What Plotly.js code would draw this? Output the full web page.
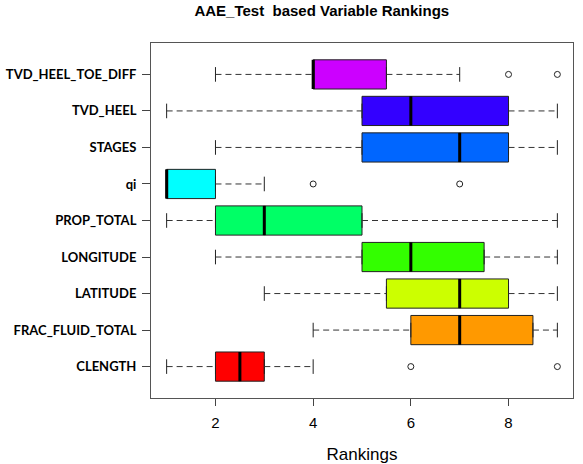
<!DOCTYPE html>
<html>
<head>
<meta charset="utf-8">
<script src="https://cdn.plot.ly/plotly-3.0.1.min.js"></script>
<style>
  html, body { margin: 0; padding: 0; background: #fff; }
  #chart { width: 583px; height: 464px; }
</style>
</head>
<body>
<div id="chart"></div>
<script>
// Variables, listed bottom to top
const categories = ['CLENGTH', 'FRAC_FLUID_TOTAL', 'LATITUDE', 'LONGITUDE', 'PROP_TOTAL',
                    'qi', 'STAGES', 'TVD_HEEL', 'TVD_HEEL_TOE_DIFF'];
const lowerWhisker = [1, 4, 3, 2, 1, 1, 2, 1, 2];
const q1Values     = [2, 6, 5.5, 5, 2, 1, 5, 5, 4];
const medianValues = [2.5, 7, 7, 6, 3, 1, 7, 6, 4];
const q3Values     = [3, 8.5, 8, 7.5, 5, 2, 8, 8, 5.5];
const upperWhisker = [4, 9, 9, 9, 9, 3, 9, 9, 7];
const outlierValues = [[6, 9], [], [], [], [], [4, 7], [], [], [8, 9]];
const boxColors = ['#FF0000', '#FF9900', '#CCFF00', '#33FF00', '#00FF66',
                   '#00FFFF', '#0066FF', '#3300FF', '#CC00FF'];

const positions = categories.map((_, i) => i + 1);
const boxHalf = 0.4;
const stapleHalf = 0.2;

const traces = [];

// dashed whiskers
const wx = [], wy = [];
positions.forEach((p, i) => {
  wx.push(lowerWhisker[i], q1Values[i], null, q3Values[i], upperWhisker[i], null);
  wy.push(p, p, null, p, p, null);
});
traces.push({
  type: 'scatter', mode: 'lines', x: wx, y: wy,
  line: { color: '#333', width: 1, dash: '6px,4px' },
  hoverinfo: 'skip', showlegend: false
});

// boxes
positions.forEach((p, i) => {
  traces.push({
    type: 'box', orientation: 'h',
    y: [p],
    q1: [q1Values[i]], median: [medianValues[i]], q3: [q3Values[i]],
    lowerfence: [q1Values[i]], upperfence: [q3Values[i]],
    width: boxHalf * 2,
    fillcolor: boxColors[i],
    line: { color: '#222', width: 1 },
    boxpoints: false,
    hoverinfo: 'skip', showlegend: false
  });
});

// staples and medians
const sx = [], sy = [], mx = [], my = [];
positions.forEach((p, i) => {
  sx.push(lowerWhisker[i], lowerWhisker[i], null, upperWhisker[i], upperWhisker[i], null);
  sy.push(p - stapleHalf, p + stapleHalf, null, p - stapleHalf, p + stapleHalf, null);
  mx.push(medianValues[i], medianValues[i], null);
  my.push(p - boxHalf, p + boxHalf, null);
});
traces.push({
  type: 'scatter', mode: 'lines', x: sx, y: sy,
  line: { color: '#222', width: 1 }, hoverinfo: 'skip', showlegend: false
});
traces.push({
  type: 'scatter', mode: 'lines', x: mx, y: my,
  line: { color: '#000', width: 3 }, hoverinfo: 'skip', showlegend: false
});

// outliers
const ox = [], oy = [];
positions.forEach((p, i) => {
  outlierValues[i].forEach(v => { ox.push(v); oy.push(p); });
});
traces.push({
  type: 'scatter', mode: 'markers', x: ox, y: oy,
  marker: { symbol: 'circle-open', size: 6, color: '#222', line: { width: 1 } },
  hoverinfo: 'skip', showlegend: false
});

const layout = {
  width: 583, height: 464,
  paper_bgcolor: '#fff', plot_bgcolor: '#fff',
  margin: { l: 151, r: 10, t: 43, b: 66 },
  showlegend: false,
  title: {
    text: 'AAE_Test\u00A0 based Variable Rankings',
    font: { family: 'Liberation Sans, Arial, sans-serif', size: 15, color: '#000', weight: 'bold' },
    xref: 'container', x: 0.552, xanchor: 'center',
    yref: 'container', y: 1 - 11 / 464, yanchor: 'middle'
  },
  xaxis: {
    range: [0.68, 9.32],
    tickvals: [2, 4, 6, 8],
    ticks: 'outside', ticklen: 7, tickcolor: '#444',
    ticklabelstandoff: 4,
    showgrid: false, zeroline: false,
    showline: true, mirror: true, linecolor: '#555', linewidth: 1,
    tickfont: { family: 'Liberation Sans, Arial, sans-serif', size: 15, color: '#000' },
    title: { text: 'Rankings', font: { family: 'Liberation Sans, Arial, sans-serif', size: 17, color: '#000' }, standoff: 25 }
  },
  yaxis: {
    range: [0.14, 9.86],
    tickvals: positions,
    ticktext: categories,
    ticks: 'outside', ticklen: 8, tickcolor: '#444',
    ticklabelstandoff: 3,
    showgrid: false, zeroline: false,
    showline: true, mirror: true, linecolor: '#555', linewidth: 1,
    tickfont: { family: 'Lato, sans-serif', size: 13, color: '#000', weight: 'bold' }
  }
};

Plotly.newPlot('chart', traces, layout, { displayModeBar: false, staticPlot: true });
</script>
</body>
</html>
